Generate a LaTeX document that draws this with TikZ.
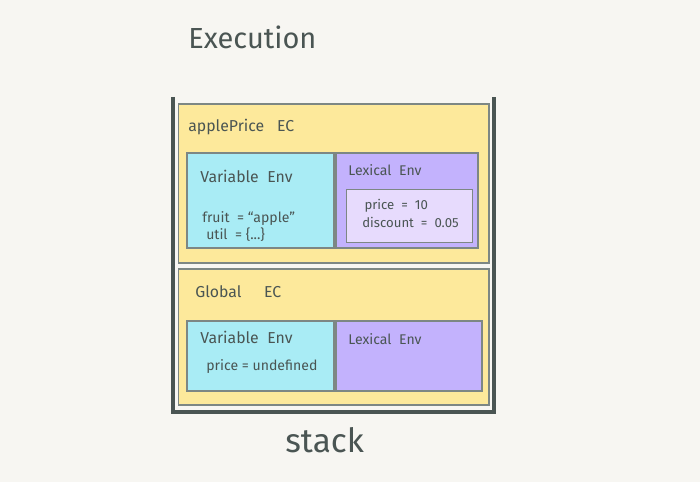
\documentclass[tikz,border=0pt]{standalone}
\usepackage{fontspec}
\setmainfont{Fira Sans}
\usepackage{tikz}
\usetikzlibrary{positioning}
\definecolor{paper}{HTML}{F7F6F2}
\definecolor{ink}{HTML}{4A5553}
\definecolor{edge}{HTML}{7D8784}
\definecolor{ecyellow}{HTML}{FDE99B}
\definecolor{varcyan}{HTML}{A9ECF5}
\definecolor{lexpurple}{HTML}{C3B2FD}
\definecolor{scopelilac}{HTML}{E7DBFD}

\begin{document}
\begin{tikzpicture}[x=0.02cm,y=-0.02cm,
	box/.style={draw=edge,line width=0.6pt,inner sep=0pt},
	ec/.style={box,fill=ecyellow,minimum width=6.22cm},
	varenv/.style={box,fill=varcyan,minimum width=2.94cm},
	lexenv/.style={box,fill=lexpurple},
	txt/.style={anchor=west,text=ink,font=\small,inner sep=0pt},
	code/.style={txt,font=\fontsize{7.5}{10}\selectfont,align=left},
	wall/.style={draw=ink,line width=1.8pt}]
	\fill[paper] (0,0) rectangle (700,482);
	\useasboundingbox (0,0) rectangle (700,482);
	% title
	\node[txt,font=\fontsize{16.5}{20}\selectfont] (title) at (188,37) {Execution};
	% the stack walls
	\coordinate (stackTL) at (173,97);
	\coordinate (stackBL) at (173,412);
	\coordinate (stackBR) at (494,412);
	\coordinate (stackTR) at (494,97);
	\draw[wall] (stackTL) -- (stackBL) -- (stackBR) -- (stackTR);
	% applePrice EC
	\node[ec, minimum height=3.18cm] (appleEC) at (333.5,183.5) {};
	\node[txt] (appleTitle) at (188,127) {applePrice\;\; EC};
	\node[varenv, minimum height=1.90cm] (appleVar) at (260.5,200.5) {};
	\node[lexenv, minimum width=2.84cm, minimum height=1.90cm] (appleLex) at (407,200.5) {};
	\node[box, line width=0.5pt, fill=scopelilac, minimum width=2.52cm, minimum height=1.06cm] (appleScope) at (409,215.5) {};
	\node[txt] (appleVarTitle) at (200,176) {Variable\; Env};
	\node[code, font=\footnotesize] (appleVarCode) at (202,226.5) {fruit \ = “apple”\\\;util \ = \{...\}};
	\node[txt,font=\footnotesize] (appleLexTitle) at (348,170) {Lexical\; Env};
	\node[code] (appleScopeCode) at (362,213.5) {\,price \ = \ 10\\discount \ = \ 0.05};
	% Global EC
	\node[ec, minimum height=2.72cm] (globalEC) at (333.5,337) {};
	\node[txt] (globalTitle) at (195,292) {Global\quad\, EC};
	\node[varenv, minimum height=1.40cm] (globalVar) at (260.5,356) {};
	\node[lexenv, minimum width=2.92cm, minimum height=1.40cm] (globalLex) at (409,356) {};
	\node[txt] (globalVarTitle) at (200,337) {Variable\; Env};
	\node[code, font=\footnotesize] (globalVarCode) at (206,367) {price = undefined};
	\node[txt,font=\footnotesize] (globalLexTitle) at (348,339) {Lexical\; Env};
	% caption
	\node[txt,font=\fontsize{19}{23}\selectfont] (stackLabel) at (285,440) {stack};
\end{tikzpicture}
\end{document}
